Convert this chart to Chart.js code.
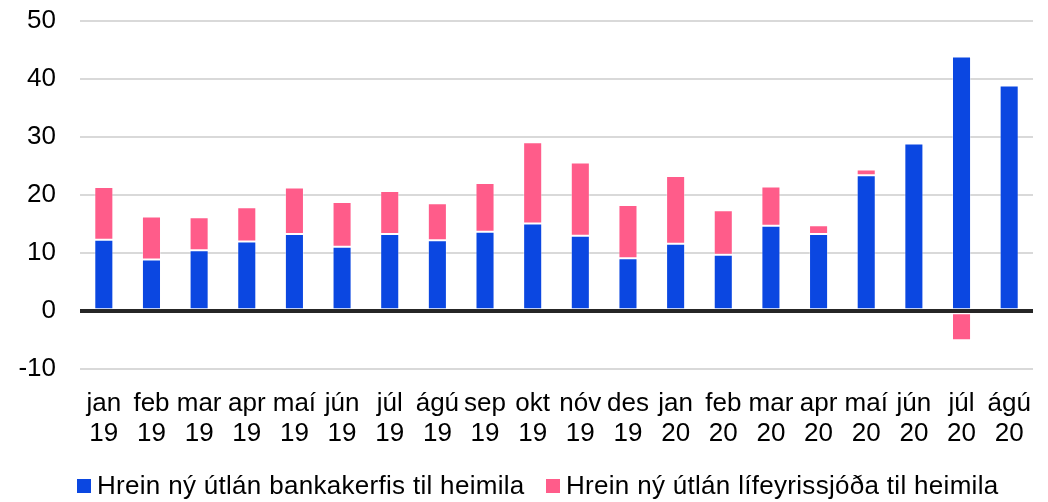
<!DOCTYPE html>
<html>
<head>
<meta charset="utf-8">
<script src="https://cdn.jsdelivr.net/npm/chart.js@4"></script>
<style>
  html, body { margin: 0; padding: 0; background: #fff; }
  #wrap { width: 1048px; height: 502px; position: relative; }
  #legend { position: absolute; left: 0; top: 470px; width: 1048px; height: 30px;
            font-family: 'Liberation Sans', Arial, sans-serif; font-size: 26px; color: #000;
            letter-spacing: 0.3px; }
  .item { position: absolute; top: 0; white-space: nowrap; line-height: 30px; }
  .sw { display: inline-block; width: 14px; height: 14px; margin-right: 6px; vertical-align: 1px; }
</style>
</head>
<body>
<div id="wrap">
  <canvas id="chart"></canvas>
  <div id="legend"></div>
</div>
<script>
// Months (x axis, two lines each)
const months = ['jan', 'feb', 'mar', 'apr', 'maí', 'jún', 'júl', 'ágú', 'sep', 'okt', 'nóv', 'des',
                'jan', 'feb', 'mar', 'apr', 'maí', 'jún', 'júl', 'ágú'];
const years = ['19', '19', '19', '19', '19', '19', '19', '19', '19', '19', '19', '19',
               '20', '20', '20', '20', '20', '20', '20', '20'];

// Net new lending, ma.kr.
const bankLending = [12.3, 8.9, 10.5, 12.0, 13.3, 11.1, 13.3, 12.2, 13.7, 15.1, 13.0, 9.1,
                     11.6, 9.7, 14.7, 13.3, 23.4, 28.9, 43.9, 38.9];
const pensionLending = [9.1, 7.4, 5.7, 5.9, 8.0, 7.7, 7.4, 6.4, 8.4, 14.0, 12.6, 9.2,
                        11.7, 7.7, 6.8, 1.5, 1.0, 0, -5.0, 0];

const seriesNames = ['Hrein ný útlán bankakerfis til heimila', 'Hrein ný útlán lífeyrissjóða til heimila'];
const seriesColors = ['#0b47e1', '#ff5c8a'];

const yTicks = [-10, 0, 10, 20, 30, 40, 50];

const labels = months.map((m, i) => [m, years[i]]);
const font = 'Liberation Sans, Arial, sans-serif';

const ctx = document.getElementById('chart').getContext('2d');
const chart = new Chart(ctx, {
    type: 'bar',
    data: {
        labels: labels,
        datasets: [bankLending, pensionLending].map((d, i) => ({
            label: seriesNames[i],
            data: d,
            backgroundColor: seriesColors[i],
            borderColor: 'rgba(255,255,255,0.35)',
            borderWidth: 1,
            borderSkipped: false
        }))
    },
    options: {
        responsive: true,
        maintainAspectRatio: false,
        animation: false,
        layout: { padding: { left: 17, right: 15, top: 21, bottom: 41 } },
        datasets: {
            bar: { categoryPercentage: 1.0, barPercentage: 0.4 }
        },
        plugins: {
            legend: { display: false },
            tooltip: { enabled: false }
        },
        scales: {
            x: {
                stacked: true,
                grid: { display: false },
                border: { display: false },
                ticks: {
                    color: '#000',
                    font: { family: font, size: 26, lineHeight: 1.15 },
                    maxRotation: 0,
                    autoSkip: false,
                    padding: 12
                }
            },
            y: {
                stacked: true,
                min: -10,
                max: 50,
                afterBuildTicks: axis => { axis.ticks = yTicks.map(v => ({ value: v })); },
                afterFit: axis => {
                    axis.width = 63;
                    axis.paddingTop = 0;
                    axis.paddingBottom = 0;
                },
                border: { display: false },
                grid: {
                    drawTicks: false,
                    color: c => c.tick && c.tick.value === 0 ? '#262626' : '#d9d9d9',
                    lineWidth: c => c.tick && c.tick.value === 0 ? 4 : 2
                },
                ticks: {
                    color: '#000',
                    font: { family: font, size: 26 },
                    padding: 24
                }
            }
        }
    }
});

// Legend below the plot
const legend = document.getElementById('legend');
const legendX = [77, 546];
seriesNames.forEach((name, i) => {
    const item = document.createElement('div');
    item.className = 'item';
    item.style.left = legendX[i] + 'px';
    item.innerHTML = `<span class="sw" style="background:${seriesColors[i]}"></span>${name}`;
    legend.appendChild(item);
});
</script>
</body>
</html>
